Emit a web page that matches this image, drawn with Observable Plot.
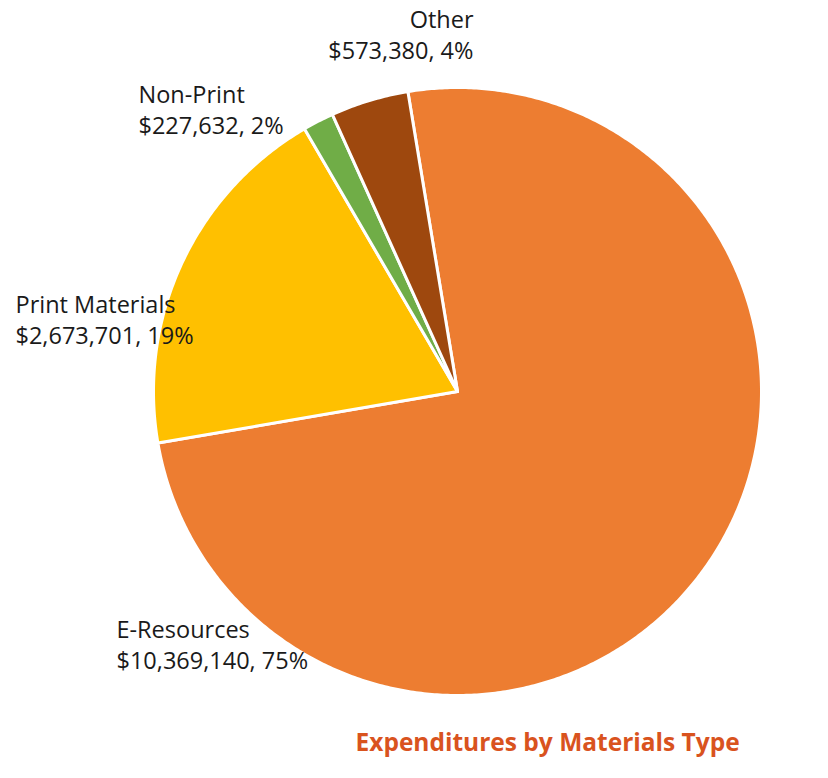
<!DOCTYPE html>
<html><head><meta charset="utf-8">
<script src="https://cdn.jsdelivr.net/npm/d3@7"></script>
<script src="https://cdn.jsdelivr.net/npm/@observablehq/plot@0.6"></script>
<style>body{margin:0;background:#fff}</style>
</head><body><div id="chart"></div>
<script>
// Data
const categories = ["E-Resources", "Print Materials", "Non-Print", "Other"];
const amounts = [10369140, 2673701, 227632, 573380];
const percentLabels = ["75%", "19%", "2%", "4%"];
const colors = ["#ED7D31", "#FFC000", "#70AD47", "#9E480E"];
const chartTitle = "Expenditures by Materials Type";

// Layout
const W = 828, H = 778;
const cx = 457, cy = 391, r = 304;
const startAngle = -9.4 * Math.PI / 180;
const fs = 23.5;
const labelLayout = [
  {x: 116, base: 637, anchor: "start"},
  {x: 15, base: 312, anchor: "start"},
  {x: 138, base: 102, anchor: "start"},
  {x: 473, base: 27, anchor: "end"}
];

const arcs = d3.pie().sort(null).startAngle(startAngle).endAngle(startAngle + 2 * Math.PI)(amounts);
const slicePts = [];
arcs.forEach((a, i) => {
  const n = Math.max(2, Math.ceil((a.endAngle - a.startAngle) / (Math.PI / 360)));
  slicePts.push({cat: categories[i], px: cx, py: cy});
  for (let k = 0; k <= n; k++) {
    const t = a.startAngle + (a.endAngle - a.startAngle) * k / n;
    slicePts.push({cat: categories[i], px: cx + r * Math.sin(t), py: cy - r * Math.cos(t)});
  }
  slicePts.push({cat: categories[i], px: cx, py: cy});
});

const fmt = d3.format("$,");
const labels = categories.map((c, i) => ({
  name: c,
  value: `${fmt(amounts[i])}, ${percentLabels[i]}`,
  x: labelLayout[i].x,
  y1: labelLayout[i].base - 0.32 * fs,
  y2: labelLayout[i].base + 31 - 0.32 * fs,
  anchor: labelLayout[i].anchor
}));

const textOpts = {fontFamily: "'Open Sans', sans-serif", fontSize: fs, fill: "#1a1a1a"};
const plot = Plot.plot({
  width: W, height: H,
  margin: 0,
  x: {domain: [0, W], range: [0, W], axis: null},
  y: {domain: [0, H], range: [0, H], axis: null},
  color: {domain: categories, range: colors},
  style: {background: "white"},
  marks: [
    Plot.line(slicePts, {x: "px", y: "py", z: "cat", fill: "cat", stroke: "white", strokeWidth: 3, strokeLinejoin: "round"}),
    ...["start", "end"].map(anc => Plot.text(labels.filter(d => d.anchor === anc), {x: "x", y: "y1", text: "name", textAnchor: anc, ...textOpts})),
    ...["start", "end"].map(anc => Plot.text(labels.filter(d => d.anchor === anc), {x: "x", y: "y2", text: "value", textAnchor: anc, ...textOpts})),
    Plot.text([chartTitle], {x: () => 355, y: () => 750 - 0.32 * 24.5, text: d => d, textAnchor: "start", fontFamily: "'Open Sans', sans-serif", fontWeight: "bold", fontSize: 24.5, fill: "#D9531E"})
  ]
});
document.getElementById("chart").appendChild(plot);
</script>
</body></html>
